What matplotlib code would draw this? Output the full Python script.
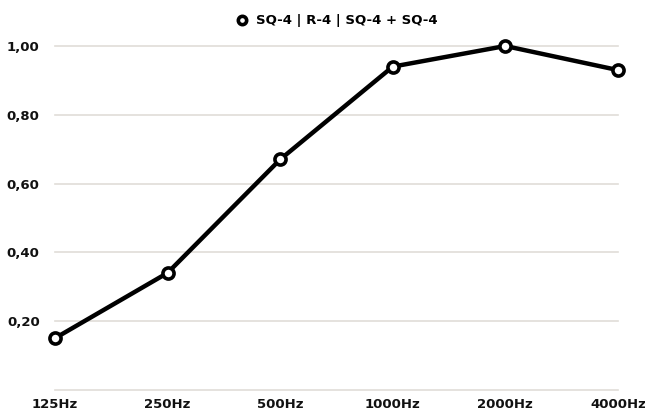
import matplotlib.pyplot as plt

freqs = ['125Hz', '250Hz', '500Hz', '1000Hz', '2000Hz', '4000Hz']
alpha = [0.15, 0.34, 0.67, 0.94, 1.00, 0.93]
yticks = [0.2, 0.4, 0.6, 0.8, 1.0]
series_name = 'SQ-4 | R-4 | SQ-4 + SQ-4'

plt.rcParams['font.family'] = ['DejaVu Sans']
plt.rcParams['font.weight'] = 'bold'

fig = plt.figure(figsize=(6.45, 4.13), dpi=100)
ax = fig.add_axes([0.0853, 0.0563, 0.8727, 0.8323])

x = list(range(len(freqs)))
ax.plot(x, alpha, color='black', linewidth=3.2, marker='o', markersize=8,
        markerfacecolor='white', markeredgecolor='black', markeredgewidth=2.6,
        clip_on=False, zorder=3, label=series_name)

ax.set_xlim(0, len(freqs) - 1)
ax.set_ylim(0, 1.0)
ax.set_yticks([0.0] + yticks)
ax.yaxis.set_major_formatter(plt.FuncFormatter(lambda v, p: '' if v == 0 else ('%.2f' % v).replace('.', ',')))
ax.set_xticks(x)
ax.set_xticklabels(freqs)
ax.grid(axis='y', color='#e0ddd8', linewidth=1.2)
for gl in ax.get_ygridlines():
    gl.set_clip_on(False)
ax.set_axisbelow(True)
for s in ax.spines.values():
    s.set_visible(False)
ax.tick_params(axis='both', length=0, labelsize=9.5, colors='#111111')
ax.tick_params(axis='y', pad=11)
ax.tick_params(axis='x', pad=6)

leg = ax.legend(loc='lower center', bbox_to_anchor=(0.5, 1.02), frameon=False,
                fontsize=9.5, handlelength=1.0, handletextpad=0.6, markerscale=0.75)
for h in leg.get_lines():
    h.set_linestyle('none')

plt.savefig('out.png', dpi=100)
